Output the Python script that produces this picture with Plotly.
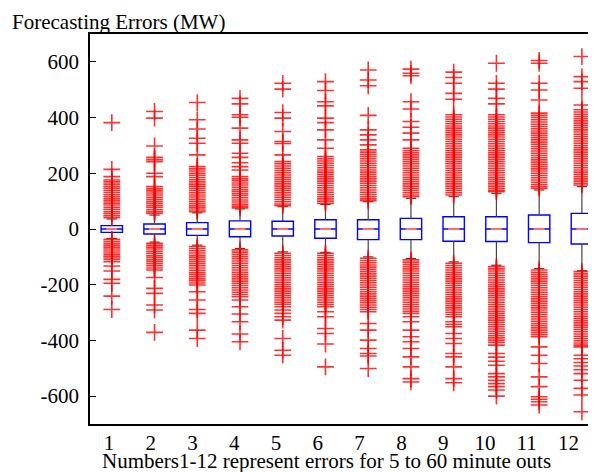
import plotly.graph_objects as go

categories = [1, 2, 3, 4, 5, 6, 7, 8, 9, 10, 11, 12]
tick_labels = ["1", "2", "3", "4", "5", "6", "7", "8", "9", "10", "11", "12"]

q1 = [-12, -18, -23, -28, -25, -33, -38, -38, -44, -45, -49, -54]
median = [0, 0, 0, 0, 0, 0, 0, 0, 0, 0, 0, 0]
q3 = [12, 18, 23, 29, 28, 33, 33, 38, 44, 44, 50, 56]
whisker_low = [-34, -47, -58, -70, -82, -84, -100, -106, -118, -130, -142, -150]
whisker_high = [36, 50, 58, 72, 80, 88, 98, 110, 116, 128, 140, 152]

out1 = [382, 214, 188, 176, 169, 161, 153, 146, 138, 131, 123, 116, 108, 101, 93, 86, 78, 71, 63, 56, 48, 41,
        -37, -44, -51, -58, -65, -72, -79, -86, -93, -100, -108, -117, -133, -151, -181, -195, -241, -289]
out2 = [422, 398, 298, 257, 249, 242, 200, 188, 152, 144, 137, 129, 122, 114, 107, 99, 92, 84, 77, 69, 62, 56,
        -51, -58, -65, -72, -80, -87, -95, -102, -110, -117, -125, -132, -140, -147, -174, -213, -231, -273, -291, -371]
out3 = [454, 392, 359, 326, 308, 266, 224, 216, 208, 200, 193, 185, 177, 169, 161, 154, 146, 138, 130, 122, 115,
        107, 99, 91, 83, 76, 68, 62,
        -63, -70, -78, -86, -94, -101, -109, -117, -125, -132, -140, -148, -156, -163, -171, -179, -186, -194, -201,
        -225, -255, -289, -303, -363, -393]
out4 = [469, 449, 410, 401, 362, 320, 308, 272, 257, 238, 224, 212, 188, 180, 173, 165, 158, 150, 142, 135, 127,
        120, 112, 104, 97, 89, 82, 76,
        -75, -83, -91, -99, -107, -115, -123, -131, -139, -147, -155, -163, -171, -179, -187, -195, -203, -211, -219,
        -227, -235, -243, -255, -279, -305, -333, -377, -405]
out5 = [523, 502, 418, 398, 350, 314, 307, 266, 242, 234, 226, 218, 210, 202, 194, 186, 178, 170, 162, 154, 146,
        138, 130, 122, 114, 106, 98, 90, 84,
        -87, -95, -103, -111, -119, -127, -135, -143, -151, -159, -167, -175, -183, -191, -199, -207, -215, -223,
        -231, -239, -247, -255, -263, -270, -279, -291, -303, -315, -327, -393, -435, -453]
out6 = [529, 497, 457, 442, 398, 382, 356, 320, 290, 260, 252, 244, 236, 228, 220, 212, 204, 196, 188, 180, 172,
        164, 156, 148, 140, 132, 124, 116, 108, 100, 92,
        -87, -95, -103, -111, -119, -127, -135, -143, -151, -159, -167, -175, -183, -191, -199, -207, -215, -223,
        -231, -239, -247, -255, -263, -271, -279, -297, -315, -357, -375, -413, -495]
out7 = [571, 535, 514, 408, 356, 338, 320, 302, 284, 276, 268, 260, 252, 244, 236, 228, 220, 212, 204, 196, 188,
        180, 172, 164, 156, 148, 140, 132, 124, 116, 108, 102,
        -105, -113, -121, -129, -137, -145, -153, -161, -169, -177, -185, -193, -201, -209, -217, -225, -233, -241,
        -249, -257, -265, -273, -281, -289, -297, -339, -363, -399, -429, -447, -456, -501]
out8 = [574, 559, 550, 457, 431, 386, 365, 344, 320, 290, 282, 274, 266, 258, 250, 242, 234, 226, 218, 210, 202,
        194, 186, 178, 170, 162, 154, 146, 138, 130, 122, 116,
        -111, -119, -127, -135, -143, -151, -159, -167, -175, -183, -191, -199, -207, -215, -223, -231, -239, -247,
        -255, -263, -271, -279, -287, -295, -303, -315, -333, -363, -387, -405, -429, -459, -495, -537, -549]
out9 = [563, 544, 523, 487, 466, 410, 402, 394, 386, 378, 370, 362, 354, 346, 338, 330, 322, 314, 306, 298, 290,
        282, 274, 266, 258, 250, 242, 234, 226, 218, 210, 202, 194, 186, 178, 170, 162, 154, 146, 138, 130, 122,
        -123, -131, -139, -147, -155, -163, -171, -179, -187, -195, -203, -211, -219, -227, -235, -243, -251, -259,
        -267, -275, -283, -291, -299, -307, -315, -333, -342, -351, -375, -393, -411, -447, -459, -495, -537, -552]
out10 = [595, 523, 502, 469, 449, 410, 402, 394, 386, 378, 370, 362, 354, 346, 338, 330, 322, 314, 306, 298, 290,
         282, 274, 266, 258, 250, 242, 234, 226, 218, 210, 202, 194, 186, 178, 170, 162, 154, 146, 138, 134,
         -135, -143, -151, -159, -167, -175, -183, -191, -199, -207, -215, -223, -231, -239, -247, -255, -263, -271,
         -279, -287, -295, -303, -311, -319, -327, -335, -343, -351, -359, -367, -375, -383, -391, -399, -407, -417,
         -447, -460, -475, -489, -519, -531, -543, -555, -566, -578, -600]
out11 = [605, 595, 523, 499, 463, 416, 408, 400, 392, 384, 376, 368, 360, 352, 344, 336, 328, 320, 312, 304, 296,
         288, 280, 272, 264, 256, 248, 240, 232, 224, 216, 208, 200, 192, 184, 176, 168, 160, 152, 146,
         -147, -155, -163, -171, -179, -187, -195, -203, -211, -219, -227, -235, -243, -251, -259, -267, -275, -283,
         -291, -299, -307, -315, -323, -331, -339, -347, -355, -363, -371, -379, -387, -423, -453, -483, -531, -566,
         -602, -611, -620, -632]
out12 = [619, 547, 529, 505, 445, 428, 420, 412, 404, 396, 388, 380, 372, 364, 356, 348, 340, 332, 324, 316, 308,
         300, 292, 284, 276, 268, 260, 252, 244, 236, 228, 220, 212, 204, 196, 188, 180, 172, 164, 158,
         -153, -161, -169, -177, -185, -193, -201, -209, -217, -225, -233, -241, -249, -257, -265, -273, -281, -289,
         -297, -305, -313, -321, -329, -337, -345, -353, -361, -369, -377, -385, -393, -401, -409, -417, -423,
         -453, -466, -479, -492, -505, -519, -543, -572, -596, -656]

outliers = [out1, out2, out3, out4, out5, out6, out7, out8, out9, out10, out11, out12]

font_family = "Liberation Serif, Times New Roman, serif"
FS = 21

# the page body has an 8px margin, so the figure sits at (8, 8) in the window
W, H = 588, 464
L, T, B = 82, 26, 48           # plot area: x 82..588, y 26..416 (figure coords)
PW, PH = W - L, H - T - B

fig = go.Figure()

# whiskers (with small caps)
wx, wy = [], []
cap = 0.12
for c, lo, a, b, hi in zip(categories, whisker_low, q1, q3, whisker_high):
    wx += [c, c, None, c, c, None, c - cap, c + cap, None, c - cap, c + cap, None]
    wy += [b, hi, None, lo, a, None, hi, hi, None, lo, lo, None]
fig.add_trace(go.Scatter(x=wx, y=wy, mode="lines", line=dict(color="#444444", width=1.2),
                         hoverinfo="skip", showlegend=False))

# boxes
fig.add_trace(go.Box(x=categories, q1=q1, median=median, q3=q3, lowerfence=q1, upperfence=q3,
                     width=0.5, whiskerwidth=0, boxpoints=False,
                     line=dict(color="#0000ff", width=1.4), fillcolor="white", showlegend=False))

# red median segments
mx, my = [], []
for c, m in zip(categories, median):
    mx += [c - 0.13, c + 0.13, None]
    my += [m, m, None]
fig.add_trace(go.Scatter(x=mx, y=my, mode="lines", line=dict(color="rgb(255,110,110)", width=2),
                         hoverinfo="skip", showlegend=False))

# outliers
ox, oy = [], []
for c, vals in zip(categories, outliers):
    ox += [c] * len(vals)
    oy += vals
fig.add_trace(go.Scatter(x=ox, y=oy, mode="markers",
                         marker=dict(symbol="cross-thin", size=12, color="#ff0000", opacity=0.8,
                                     line=dict(color="#ff0000", width=1.6)),
                         showlegend=False))

# invisible anchor trace for the label axis (labels sit slightly left of the boxes, as in the original)
fig.add_trace(go.Scatter(x=categories, y=median, xaxis="x2", mode="markers",
                         marker=dict(opacity=0), hoverinfo="skip", showlegend=False))

fig.update_layout(
    width=W, height=H,
    margin=dict(l=L, r=0, t=T, b=B, autoexpand=False),
    paper_bgcolor="white", plot_bgcolor="white",
    font=dict(family=font_family, size=FS, color="black"),
    showlegend=False,
    xaxis=dict(range=[0.49, 12.33], showticklabels=False, ticks="",
               showgrid=False, zeroline=False, showline=True, linecolor="black", linewidth=1.5,
               mirror=True),
    xaxis2=dict(range=[0.545, 12.659], overlaying="x", side="bottom", anchor="y",
                tickvals=categories, ticktext=tick_labels,
                ticks="outside", ticklen=0, tickcolor="rgba(0,0,0,0)",
                showgrid=False, zeroline=False, showline=False,
                tickfont=dict(size=FS), ticklabelstandoff=0),
    yaxis=dict(range=[-700, 700], tickvals=[-600, -400, -200, 0, 200, 400, 600],
               ticktext=["-600", "-400", "-200", "0", "200", "400", "600"],
               ticks="inside", ticklen=6, tickcolor="black", showgrid=False, zeroline=False,
               showline=True, linecolor="black", linewidth=1.5, mirror=False,
               tickfont=dict(size=FS), ticklabelstandoff=5),
    annotations=[
        dict(text="Forecasting Errors (MW)", xref="paper", yref="paper",
             x=(2 - L) / PW, y=(T + PH - 0) / PH, xanchor="left", yanchor="top",
             showarrow=False, font=dict(size=FS)),
        dict(text="Numbers1-12 represent errors for 5 to 60 minute outs", xref="paper", yref="paper",
             x=(318 - L) / PW, y=(T + PH - 453) / PH, xanchor="center", yanchor="middle",
             showarrow=False, font=dict(size=FS)),
    ],
)

fig.write_html("out.html")
